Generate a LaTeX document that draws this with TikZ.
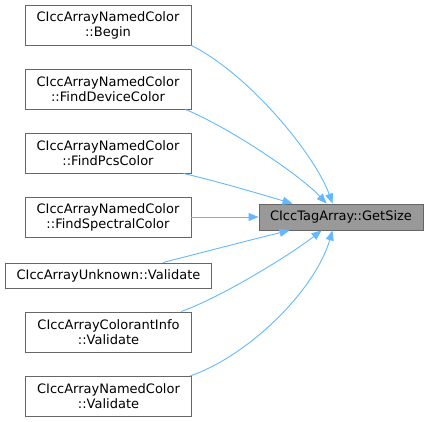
\documentclass[tikz,border=0pt]{standalone}
\usepackage{fontspec}
\setmainfont{DejaVu Sans}
\usetikzlibrary{arrows.meta,calc}
\definecolor{edgeblue}{HTML}{63B8FF}
\definecolor{boxline}{HTML}{666666}
\definecolor{boxfill}{HTML}{999999}
\tikzset{
  fn/.style={draw=boxline, fill=white, line width=0.9pt, minimum height=40pt, minimum width=166pt, inner sep=0pt, align=center, font=\fontsize{13}{15}\selectfont},
  fnone/.style={fn, minimum height=25pt},
  target/.style={fn, fill=boxfill, minimum height=26pt, minimum width=164pt},
  call/.style={draw=edgeblue, line width=0.9pt, -{Triangle[length=10pt,width=8pt]}},
}
\begin{document}
\begin{tikzpicture}[x=1pt,y=-1pt]
\useasboundingbox (0,0) rectangle (428,421);
\node[fn] (b1) at (108,25) {CIccArrayNamedColor\\::Begin};
\node[fn] (b2) at (108,89) {CIccArrayNamedColor\\::FindDeviceColor};
\node[fn] (b3) at (108,153) {CIccArrayNamedColor\\::FindPcsColor};
\node[fn] (b4) at (108,217) {CIccArrayNamedColor\\::FindSpectralColor};
\node[fnone, minimum width=206pt] (b5) at (108.5,275.5) {CIccArrayUnknown::Validate};
\node[fn] (b6) at (108.5,332) {CIccArrayColorantInfo\\::Validate};
\node[fn] (b7) at (108.5,396.5) {CIccArrayNamedColor\\::Validate};
\node[target] (t) at (341,217) {CIccTagArray::GetSize};

\draw[call] (b1.south east) .. controls (250,75) and (315,155) .. ([xshift=74pt]t.north west);
\draw[call] ([xshift=-6pt]b2.south east) .. controls (230,128) and (300,175) .. ([xshift=68pt]t.north west);
\draw[call] ([xshift=-8pt]b3.south east) .. controls (220,182) and (260,194) .. ([xshift=34pt]t.north west);
\draw[call] (b4.east) -- (t.west);
\draw[call] ([xshift=-49pt]b5.north east) .. controls (200,253) and (250,240) .. ([xshift=31pt]t.south west);
\draw[call] ([xshift=-11pt]b6.north east) .. controls (220,298) and (290,255) .. ([xshift=63pt]t.south west);
\draw[call] ([xshift=-2pt]b7.north east) .. controls (250,355) and (315,290) .. ([xshift=74pt]t.south west);
\end{tikzpicture}
\end{document}
